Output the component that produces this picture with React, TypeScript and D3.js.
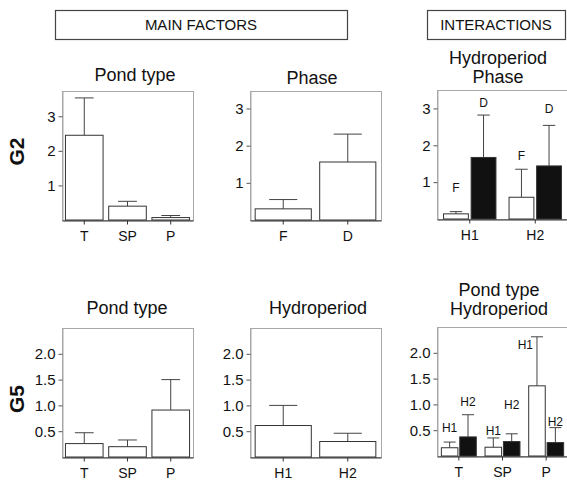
import { useRef, useEffect } from 'react'
import * as d3 from 'd3'

const FONT = '"Liberation Sans", Arial, sans-serif'

// categories
const pondTypes = ['T', 'SP', 'P']
const phases = ['F', 'D']
const hydroperiods = ['H1', 'H2']

// y tick values
const g2Ticks = [1, 2, 3]
const g5Ticks = [0.5, 1.0, 1.5, 2.0]

// G2 main factors (mean, standard error)
const g2PondMean = [2.45, 0.40, 0.07]
const g2PondSE = [1.08, 0.14, 0.06]
const g2PhaseMean = [0.30, 1.56]
const g2PhaseSE = [0.25, 0.75]

// G2 interaction: hydroperiod x phase (F open, D filled)
const g2FMean = [0.14, 0.59]
const g2FSE = [0.06, 0.76]
const g2DMean = [1.67, 1.44]
const g2DSE = [1.15, 1.10]
const g2FLabelY = [0.84, 1.71]
const g2DLabelY = [3.15, 2.99]

// G5 main factors
const g5PondMean = [0.26, 0.20, 0.91]
const g5PondSE = [0.21, 0.13, 0.59]
const g5HydroMean = [0.61, 0.30]
const g5HydroSE = [0.39, 0.16]

// G5 interaction: pond type x hydroperiod (H1 open, H2 filled)
const g5H1Mean = [0.16, 0.17, 1.36]
const g5H1SE = [0.11, 0.18, 0.95]
const g5H2Mean = [0.37, 0.28, 0.26]
const g5H2SE = [0.43, 0.15, 0.29]
const g5H1LabelY = [0.55, 0.48, 2.15]
const g5H2LabelY = [1.06, 0.99, 0.66]

const W = 131, H = 129

const panels = [
  { x: 62, y: 91, yMax: 3.73, ticks: g2Ticks, fmt: d3.format('d'), title: ['Pond type'], tx: 135, ty: 81,
    groups: pondTypes, series: [{ mean: g2PondMean, se: g2PondSE, fill: '#fff' }] },
  { x: 250, y: 91, yMax: 3.47, ticks: g2Ticks, fmt: d3.format('d'), title: ['Phase'], tx: 312, ty: 84,
    groups: phases, series: [{ mean: g2PhaseMean, se: g2PhaseSE, fill: '#fff' }] },
  { x: 437, y: 90, yMax: 3.5, ticks: g2Ticks, fmt: d3.format('d'), title: ['Hydroperiod', 'Phase'], tx: 498, ty: 83,
    groups: hydroperiods, series: [
      { mean: g2FMean, se: g2FSE, fill: '#fff', label: 'F', labelY: g2FLabelY },
      { mean: g2DMean, se: g2DSE, fill: '#111', label: 'D', labelY: g2DLabelY }] },
  { x: 62, y: 328, yMax: 2.5, ticks: g5Ticks, fmt: d3.format('.1f'), title: ['Pond type'], tx: 127, ty: 314,
    groups: pondTypes, series: [{ mean: g5PondMean, se: g5PondSE, fill: '#fff' }] },
  { x: 250, y: 328, yMax: 2.5, ticks: g5Ticks, fmt: d3.format('.1f'), title: ['Hydroperiod'], tx: 318, ty: 314,
    groups: hydroperiods, series: [{ mean: g5HydroMean, se: g5HydroSE, fill: '#fff' }] },
  { x: 437, y: 327, yMax: 2.5, ticks: g5Ticks, fmt: d3.format('.1f'), title: ['Pond type', 'Hydroperiod'], tx: 499, ty: 315,
    groups: pondTypes, series: [
      { mean: g5H1Mean, se: g5H1SE, fill: '#fff', label: 'H1', labelY: g5H1LabelY },
      { mean: g5H2Mean, se: g5H2SE, fill: '#111', label: 'H2', labelY: g5H2LabelY }] },
]

const App = () => {
  const ref = useRef(null)

  useEffect(() => {
    const svg = d3.select(ref.current)
    svg.selectAll('*').remove()
    svg.attr('font-family', FONT)

    // HEADER BOXES
    const headers = [
      { text: 'MAIN FACTORS', x0: 55, x1: 347 },
      { text: 'INTERACTIONS', x0: 427, x1: 565 },
    ]
    headers.forEach(h => {
      svg.append('rect')
        .attr('x', h.x0 + 0.5).attr('y', 10.5)
        .attr('width', h.x1 - h.x0).attr('height', 29)
        .attr('fill', 'none').attr('stroke', '#444').attr('stroke-width', 1.2)
      svg.append('text')
        .attr('x', (h.x0 + h.x1) / 2).attr('y', 30)
        .attr('text-anchor', 'middle').attr('font-size', 15).attr('fill', '#111')
        .text(h.text)
    })

    // ROW LABELS
    const rows = [{ text: 'G2', y: 151.5 }, { text: 'G5', y: 399 }]
    rows.forEach(r => {
      svg.append('text')
        .attr('transform', `translate(17, ${r.y}) rotate(-90)`)
        .attr('dy', '0.35em')
        .attr('text-anchor', 'middle').attr('font-size', 21).attr('font-weight', 'bold').attr('fill', '#111')
        .text(r.text)
    })

    panels.forEach(p => {
      const g = svg.append('g').attr('transform', `translate(${p.x}, ${p.y})`)
      const multi = p.series.length > 1

      const y = d3.scaleLinear().domain([0, p.yMax]).range([H, 0])
      const x0 = d3.scaleBand().domain(p.groups).range([0, W])
        .paddingInner(multi ? 0.2 : 0.13).paddingOuter(multi ? 0.1 : 0.08)
      const x1 = d3.scaleBand().domain(d3.range(p.series.length).map(String))
        .range([0, x0.bandwidth()]).paddingInner(multi ? 0.1 : 0)

      // FRAME
      g.append('rect')
        .attr('x', 0.5).attr('y', 0.5).attr('width', W).attr('height', H)
        .attr('fill', 'none').attr('stroke', '#a8a8a8')

      // AXES
      const yAxis = d3.axisLeft(y).tickValues(p.ticks).tickFormat(p.fmt)
        .tickSize(4).tickSizeOuter(0).tickPadding(3)
      const ya = g.append('g').attr('transform', 'translate(0.5, 0)').call(yAxis)
      ya.attr('font-family', FONT).attr('font-size', 15)
      ya.select('.domain').attr('stroke', '#a8a8a8')
      ya.selectAll('.tick line').attr('stroke', '#555')
      ya.selectAll('.tick text').attr('fill', '#111')

      const xAxis = d3.axisBottom(x0).tickSize(4).tickSizeOuter(0).tickPadding(7)
      const xa = g.append('g').attr('transform', `translate(0, ${H + 0.5})`).call(xAxis)
      xa.attr('font-family', FONT).attr('font-size', 14)
      xa.select('.domain').attr('stroke', '#333')
      xa.selectAll('.tick line').attr('stroke', '#333')
      xa.selectAll('.tick text').attr('fill', '#111')

      // BARS, ERROR BARS, LABELS
      p.series.forEach((s, si) => {
        const bw = x1.bandwidth()
        const cap = Math.max(12, bw * 0.5)
        p.groups.forEach((grp, gi) => {
          const left = x0(grp) + x1(String(si))
          const cx = left + bw / 2
          const top = y(s.mean[gi])
          const errTop = y(s.mean[gi] + s.se[gi])

          g.append('line')
            .attr('x1', cx).attr('x2', cx).attr('y1', top).attr('y2', errTop)
            .attr('stroke', '#444')
          g.append('line')
            .attr('x1', cx - cap / 2).attr('x2', cx + cap / 2).attr('y1', errTop).attr('y2', errTop)
            .attr('stroke', '#444')

          g.append('rect')
            .attr('x', left).attr('y', top)
            .attr('width', bw).attr('height', H - top)
            .attr('fill', s.fill).attr('stroke', '#333')

          if (s.label) {
            const t = g.append('text')
              .attr('x', cx).attr('y', y(s.labelY[gi]))
              .attr('dy', '0.35em').attr('text-anchor', 'middle')
              .attr('font-size', 12).attr('fill', '#111')
              .text(s.label)
            // label sits beside the whisker when it is lower than the error bar top
            if (s.labelY[gi] < s.mean[gi] + s.se[gi]) {
              const len = t.node().getComputedTextLength()
              t.attr('x', cx - len / 2 - 4)
            }
          }
        })
      })

      // TITLES
      const n = p.title.length
      p.title.forEach((line, i) => {
        svg.append('text')
          .attr('x', p.tx).attr('y', p.ty - (n - 1 - i) * 19.5)
          .attr('text-anchor', 'middle').attr('font-size', 18).attr('fill', '#111')
          .text(line)
      })
    })
  }, [])

  return (
    <svg ref={ ref } width={ 567 } height={ 480 }
      style={ { position: 'absolute', left: 0, top: 0, background: '#fff' } }></svg>
  )
}

export default App
